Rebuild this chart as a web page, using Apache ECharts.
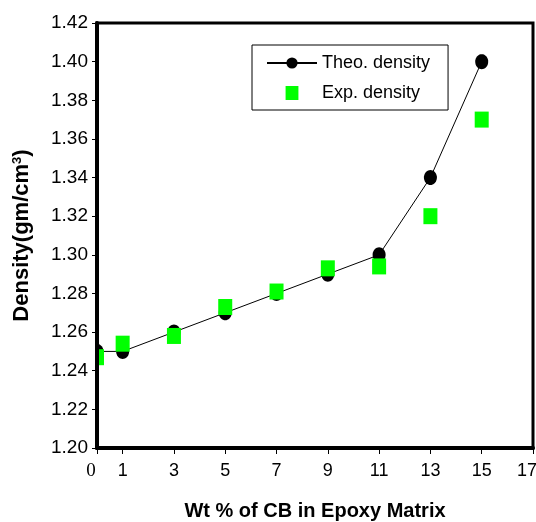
<!DOCTYPE html>
<html>
<head>
<meta charset="utf-8">
<script src="https://cdn.jsdelivr.net/npm/echarts@6/dist/echarts.min.js"></script>
<style>
  html, body { margin: 0; padding: 0; background: #fff; }
  #chart { width: 536px; height: 522px; }
</style>
</head>
<body>
<div id="chart"></div>
<script>
// wt % of CB
const wtPercent = [0, 1, 3, 5, 7, 9, 11, 13, 15];
// densities (gm/cm3)
const theoDensity = [1.25, 1.25, 1.26, 1.27, 1.28, 1.29, 1.30, 1.34, 1.40];
const expDensity = [1.247, 1.254, 1.258, 1.273, 1.281, 1.293, 1.294, 1.320, 1.370];
// x tick positions
const xTicks = [0, 1, 3, 5, 7, 9, 11, 13, 15, 17];

const font = 'Arial, "Liberation Sans", sans-serif';
const theoData = wtPercent.map((x, i) => [x, theoDensity[i]]);
const expData = wtPercent.map((x, i) => [x, expDensity[i]]);

// dot marker, cut off at the left edge of the plot
function renderDot(params, api) {
  const p = api.coord([api.value(0), api.value(1)]);
  const left = params.coordSys.x;
  const pts = [];
  for (let k = 0; k < 36; k++) {
    const a = (k / 36) * Math.PI * 2;
    pts.push([Math.max(left, p[0] + 6.5 * Math.cos(a)), p[1] + 7.5 * Math.sin(a)]);
  }
  return { type: 'polygon', shape: { points: pts }, style: { fill: '#000' } };
}

// square marker, cut off at the plot edge
function renderSquare(params, api) {
  const p = api.coord([api.value(0), api.value(1)]);
  const shape = echarts.graphic.clipRectByRect(
    { x: p[0] - 7, y: p[1] - 8, width: 14, height: 16 },
    params.coordSys
  );
  return shape && { type: 'rect', shape: shape, style: { fill: '#00ff00' } };
}

const chart = echarts.init(document.getElementById('chart'));
chart.setOption({
  animation: false,
  backgroundColor: '#fff',
  grid: {
    left: 97, right: 3, top: 23, bottom: 74,
    show: true, borderColor: '#000', borderWidth: 3,
    outerBoundsMode: 'none'
  },
  legend: {
    orient: 'vertical',
    left: 252, top: 45,
    padding: [9, 18, 8, 14],
    borderColor: '#000', borderWidth: 1,
    itemWidth: 50, itemHeight: 14, itemGap: 12,
    textStyle: { fontSize: 18, color: '#000', fontFamily: font },
    data: [
      { name: 'Theo. density' },
      { name: 'Exp. density', icon: 'path://M0,0h11v12h-11z' }
    ]
  },
  xAxis: {
    type: 'value',
    min: 0, max: 17,
    z: 5,
    name: 'Wt % of CB in Epoxy Matrix',
    nameLocation: 'middle',
    nameGap: 53,
    nameTextStyle: { fontSize: 20, fontWeight: 'bold', color: '#000', fontFamily: font },
    axisLine: { lineStyle: { color: '#000', width: 4 } },
    axisTick: { show: true, inside: false, length: 6, customValues: xTicks, lineStyle: { color: '#000', width: 1 } },
    axisLabel: {
      customValues: xTicks,
      fontSize: 18, color: '#000', fontFamily: font, margin: 14,
      formatter: function (v) {
        if (v === 0) return '{z|0}';
        if (v === 17) return '{r|17}';
        return String(v);
      },
      rich: {
        z: { fontFamily: '"Liberation Serif", serif', fontSize: 19, color: '#000', padding: [0, 12, 0, 0] },
        r: { fontFamily: font, fontSize: 18, color: '#000', padding: [0, 12, 0, 0] }
      }
    },
    splitLine: { show: false }
  },
  yAxis: {
    type: 'value',
    min: 1.20, max: 1.42, interval: 0.02,
    z: 5,
    name: '{b|Density(gm/cm}{s|3}{b|)}',
    nameLocation: 'middle',
    nameGap: 64,
    nameRotate: 90,
    nameTextStyle: {
      rich: {
        b: { fontSize: 22, fontWeight: 'bold', color: '#000', fontFamily: font },
        s: { fontSize: 13, fontWeight: 'bold', color: '#000', fontFamily: font, verticalAlign: 'top' }
      }
    },
    axisLine: { lineStyle: { color: '#000', width: 4 } },
    axisTick: { show: true, inside: false, length: 5, lineStyle: { color: '#000', width: 1 } },
    axisLabel: {
      fontSize: 19, color: '#000', fontFamily: font, margin: 9,
      formatter: v => v.toFixed(2)
    },
    splitLine: { show: false }
  },
  series: [
    {
      name: 'Theo. density',
      type: 'line',
      data: theoData,
      symbol: 'none',
      lineStyle: { color: '#000', width: 1 },
      itemStyle: { color: '#000' },
      z: 2
    },
    {
      name: 'Theo. density',
      type: 'custom',
      data: theoData,
      encode: { x: 0, y: 1 },
      itemStyle: { color: '#000' },
      z: 3,
      renderItem: renderDot
    },
    {
      name: 'Exp. density',
      type: 'custom',
      data: expData,
      encode: { x: 0, y: 1 },
      itemStyle: { color: '#00ff00' },
      z: 4,
      renderItem: renderSquare
    }
  ]
});
</script>
</body>
</html>
